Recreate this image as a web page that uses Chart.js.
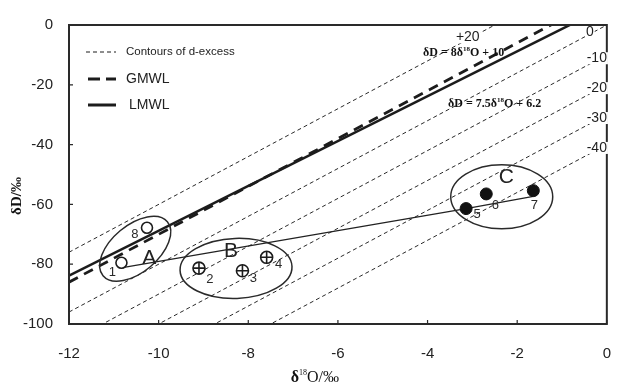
<!DOCTYPE html>
<html>
<head>
<meta charset="utf-8">
<script src="https://cdn.jsdelivr.net/npm/chart.js@4.4.1/dist/chart.umd.min.js"></script>
<style>
  html, body { margin: 0; padding: 0; background: #fff; }
  #wrap { width: 632px; height: 387px; }
</style>
</head>
<body>
<div id="wrap"><canvas id="chart" width="632" height="387"></canvas></div>
<script>
// --- samples ---
const sampleNo = ["1", "2", "3", "4", "5", "6", "7", "8"];
const d18O = [-10.83, -9.10, -8.13, -7.59, -3.14, -2.69, -1.64, -10.26];
const dD = [-79.5, -81.3, -82.2, -77.7, -61.4, -56.5, -55.4, -67.8];

const groupNames = ["A", "B", "C"];
const groupMembers = [[0, 7], [1, 2, 3], [4, 5, 6]];

// thin line joining the groups
const trendO18 = [-10.84, -3.14, -1.64];
const trendD = [-81.2, -61.4, -57.3];

// meteoric water lines: dD = slope * d18O + intercept
const mwlNames = ["GMWL", "LMWL"];
const mwlSlope = [8, 7.5];
const mwlIntercept = [10, 6.2];

// d-excess contours: dD = 8 * d18O + d
const dExcess = [20, 0, -10, -20, -30, -40];
const dExcessLabels = ["+20", "0", "-10", "-20", "-30", "-40"];

const xTicks = [-12, -10, -8, -6, -4, -2, 0];
const yTicks = [-100, -80, -60, -40, -20, 0];

// --- helpers ---
const X0 = xTicks[0], X1 = xTicks[xTicks.length - 1];
const lineData = (m, b) => [{ x: X0, y: m * X0 + b }, { x: X1, y: m * X1 + b }];
const pts = idx => idx.map(i => ({ x: d18O[i], y: dD[i] }));

const INK = "#1c1c1c";
const serif = '"Liberation Serif", "DejaVu Serif", serif';
const sans = '"Liberation Sans", Arial, sans-serif';

// order: lower number is drawn on top
const datasets = [];
dExcess.forEach((d, i) => datasets.push({
  label: "d=" + dExcessLabels[i], data: lineData(8, d), showLine: true, order: 10,
  borderColor: "#2a2a2a", borderWidth: 1, borderDash: [4, 3], pointRadius: 0, clip: 0,
}));
datasets.push({
  label: mwlNames[0], data: lineData(mwlSlope[0], mwlIntercept[0]), showLine: true, order: 9,
  borderColor: INK, borderWidth: 2.8, borderDash: [10, 7], pointRadius: 0, clip: 0,
});
datasets.push({
  label: mwlNames[1], data: lineData(mwlSlope[1], mwlIntercept[1]), showLine: true, order: 8,
  borderColor: INK, borderWidth: 2.5, pointRadius: 0, clip: 0,
});
datasets.push({
  label: "trend", data: trendO18.map((v, i) => ({ x: v, y: trendD[i] })), showLine: true, order: 7,
  borderColor: "#222", borderWidth: 1.2, pointRadius: 0, clip: 0,
});
// group A: open circles
datasets.push({
  label: "A", data: pts(groupMembers[0]), pointStyle: "circle", pointRadius: 5.5, order: 3,
  pointBackgroundColor: "#fff", pointBorderColor: INK, pointBorderWidth: 1.6,
});
// group B: circle with a cross
datasets.push({
  label: "B", data: pts(groupMembers[1]), pointStyle: "circle", pointRadius: 6, order: 3,
  pointBackgroundColor: "#fff", pointBorderColor: INK, pointBorderWidth: 1.6,
});
datasets.push({
  label: "B+", data: pts(groupMembers[1]), pointStyle: "cross", pointRadius: 6, order: 1,
  pointBorderColor: INK, pointBorderWidth: 1.6,
});
// group C: filled dots
datasets.push({
  label: "C", data: pts(groupMembers[2]), pointStyle: "circle", pointRadius: 6, order: 3,
  pointBackgroundColor: "#111", pointBorderColor: "#111", pointBorderWidth: 1,
});

// --- annotation styles (pixel offsets) ---
const ellipseStyle = [
  { dx: 1, dy: 3.5, rx: 42, ry: 23.5, rot: -40 },
  { dx: 0, dy: 3, rx: 56, ry: 30, rot: -2 },
  { dx: 6.5, dy: -1, rx: 51, ry: 32, rot: 0 },
];
const groupLabelOffset = [[15, 13], [-5, -14], [11, -21]];
const numberOffset = [[-9, 10], [11, 11], [11, 8], [12, 7], [11, 6], [9, 11], [1, 15], [-12, 7]];
const contourLabelInset = [27, 17, 10, 10, 10, 10];

function drawRich(ctx, parts, x, y, align) {
  let w = 0;
  parts.forEach(p => { ctx.font = p.font; p.w = ctx.measureText(p.t).width; w += p.w; });
  let cx = align === "center" ? x - w / 2 : x;
  ctx.textAlign = "left";
  ctx.textBaseline = "middle";
  parts.forEach(p => { ctx.font = p.font; ctx.fillText(p.t, cx, y + (p.dy || 0)); cx += p.w; });
}

const annotate = {
  id: "annotate",
  afterDatasetsDraw(chart) {
    const { ctx, chartArea: a, scales: { x, y } } = chart;
    ctx.save();

    // frame + inward ticks
    ctx.strokeStyle = "#2a2a2a";
    ctx.lineWidth = 2;
    ctx.strokeRect(a.left, a.top, a.right - a.left, a.bottom - a.top);
    ctx.lineWidth = 1.2;
    ctx.beginPath();
    xTicks.forEach(v => { const px = x.getPixelForValue(v); ctx.moveTo(px, a.bottom); ctx.lineTo(px, a.bottom - 4); });
    yTicks.forEach(v => { const py = y.getPixelForValue(v); ctx.moveTo(a.left, py); ctx.lineTo(a.left + 4, py); });
    ctx.stroke();

    // ellipses round each group + group letters
    groupMembers.forEach((idx, g) => {
      const mx = idx.reduce((s, i) => s + x.getPixelForValue(d18O[i]), 0) / idx.length;
      const my = idx.reduce((s, i) => s + y.getPixelForValue(dD[i]), 0) / idx.length;
      const e = ellipseStyle[g];
      ctx.beginPath();
      ctx.ellipse(mx + e.dx, my + e.dy, e.rx, e.ry, e.rot * Math.PI / 180, 0, Math.PI * 2);
      ctx.strokeStyle = "#2a2a2a";
      ctx.lineWidth = 1.5;
      ctx.stroke();
      ctx.fillStyle = "#222";
      ctx.font = "21px " + sans;
      ctx.textAlign = "center";
      ctx.textBaseline = "middle";
      ctx.fillText(groupNames[g], mx + groupLabelOffset[g][0], my + groupLabelOffset[g][1]);
    });

    // sample numbers
    ctx.font = "13px " + sans;
    ctx.fillStyle = "#2a2a2a";
    sampleNo.forEach((s, i) => {
      ctx.fillText(s, x.getPixelForValue(d18O[i]) + numberOffset[i][0], y.getPixelForValue(dD[i]) + numberOffset[i][1]);
    });

    // contour labels where each line leaves the plot
    ctx.font = "14px " + sans;
    dExcess.forEach((d, i) => {
      const topX = (0 - d) / 8;
      const exitX = Math.min(topX, X1);
      const px = x.getPixelForValue(exitX) - contourLabelInset[i];
      const py = y.getPixelForValue(8 * x.getValueForPixel(px) + d) - 2;
      const w = ctx.measureText(dExcessLabels[i]).width;
      ctx.fillStyle = "#fff";
      ctx.fillRect(px - w / 2 - 1, py - 6, w + 2, 12);
      ctx.fillStyle = "#1e1e1e";
      ctx.fillText(dExcessLabels[i], px, py);
    });

    // equations
    ctx.fillStyle = "#111";
    const b12 = "bold 12px " + serif, b7 = "bold 7px " + serif;
    drawRich(ctx, [
      { t: "δD = 8δ", font: b12 }, { t: "18", font: b7, dy: -4 }, { t: "O + 10", font: b12 },
    ], a.left + 354, a.top + 28);
    drawRich(ctx, [
      { t: "δD = 7.5δ", font: b12 }, { t: "18", font: b7, dy: -4 }, { t: "O + 6.2", font: b12 },
    ], a.left + 379, a.top + 79);

    // legend
    const lx = a.left + 17;
    const rows = [
      { text: "Contours of d-excess", font: "11.5px " + sans, w: 1, dash: [4, 3], y: a.top + 27 },
      { text: mwlNames[0], font: "14px " + sans, w: 3, dash: [12, 6], y: a.top + 54 },
      { text: mwlNames[1], font: "14px " + sans, w: 3, dash: [], y: a.top + 80 },
    ];
    rows.forEach((r, i) => {
      ctx.beginPath();
      ctx.setLineDash(r.dash);
      ctx.lineWidth = r.w;
      ctx.strokeStyle = INK;
      ctx.moveTo(lx + (i ? 2 : 0), r.y);
      ctx.lineTo(lx + 30, r.y);
      ctx.stroke();
      ctx.setLineDash([]);
      ctx.font = r.font;
      ctx.fillStyle = "#222";
      ctx.textAlign = "left";
      ctx.textBaseline = "middle";
      ctx.fillText(r.text, lx + 40 + (i === 2 ? 3 : 0), r.y);
    });
    ctx.restore();
  },
  afterDraw(chart) {
    const { ctx, chartArea: a } = chart;
    ctx.save();
    ctx.fillStyle = "#111";
    // x title
    drawRich(ctx, [
      { t: "δ", font: "bold 16px " + serif }, { t: "18", font: "8px " + serif, dy: -5 },
      { t: "O/‰", font: "16px " + serif },
    ], (a.left + a.right) / 2 - 23, 378, "center");
    // y title
    ctx.translate(17, 196);
    ctx.rotate(-Math.PI / 2);
    ctx.font = "bold 15px " + serif;
    ctx.textAlign = "center";
    ctx.textBaseline = "middle";
    ctx.fillText("δD/‰", 0, 0);
    ctx.restore();
  },
};

new Chart(document.getElementById("chart"), {
  type: "scatter",
  data: { datasets },
  options: {
    responsive: false,
    animation: false,
    layout: { padding: { top: 20, right: 5, left: 0, bottom: 0 } },
    plugins: { legend: { display: false }, tooltip: { enabled: false } },
    scales: {
      x: {
        type: "linear", min: X0, max: X1,
        afterBuildTicks: s => { s.ticks = xTicks.map(v => ({ value: v })); },
        afterFit: s => { s.height = 63; },
        grid: { display: false, drawTicks: false },
        border: { display: false },
        ticks: { padding: 21, color: "#222", font: { size: 15, family: sans } },
      },
      y: {
        type: "linear", min: yTicks[0], max: yTicks[yTicks.length - 1],
        afterBuildTicks: s => { s.ticks = yTicks.map(v => ({ value: v })); },
        afterFit: s => { s.width = 69; },
        grid: { display: false, drawTicks: false },
        border: { display: false },
        ticks: { padding: 16, color: "#222", font: { size: 15, family: sans } },
      },
    },
  },
  plugins: [annotate],
});
</script>
</body>
</html>
